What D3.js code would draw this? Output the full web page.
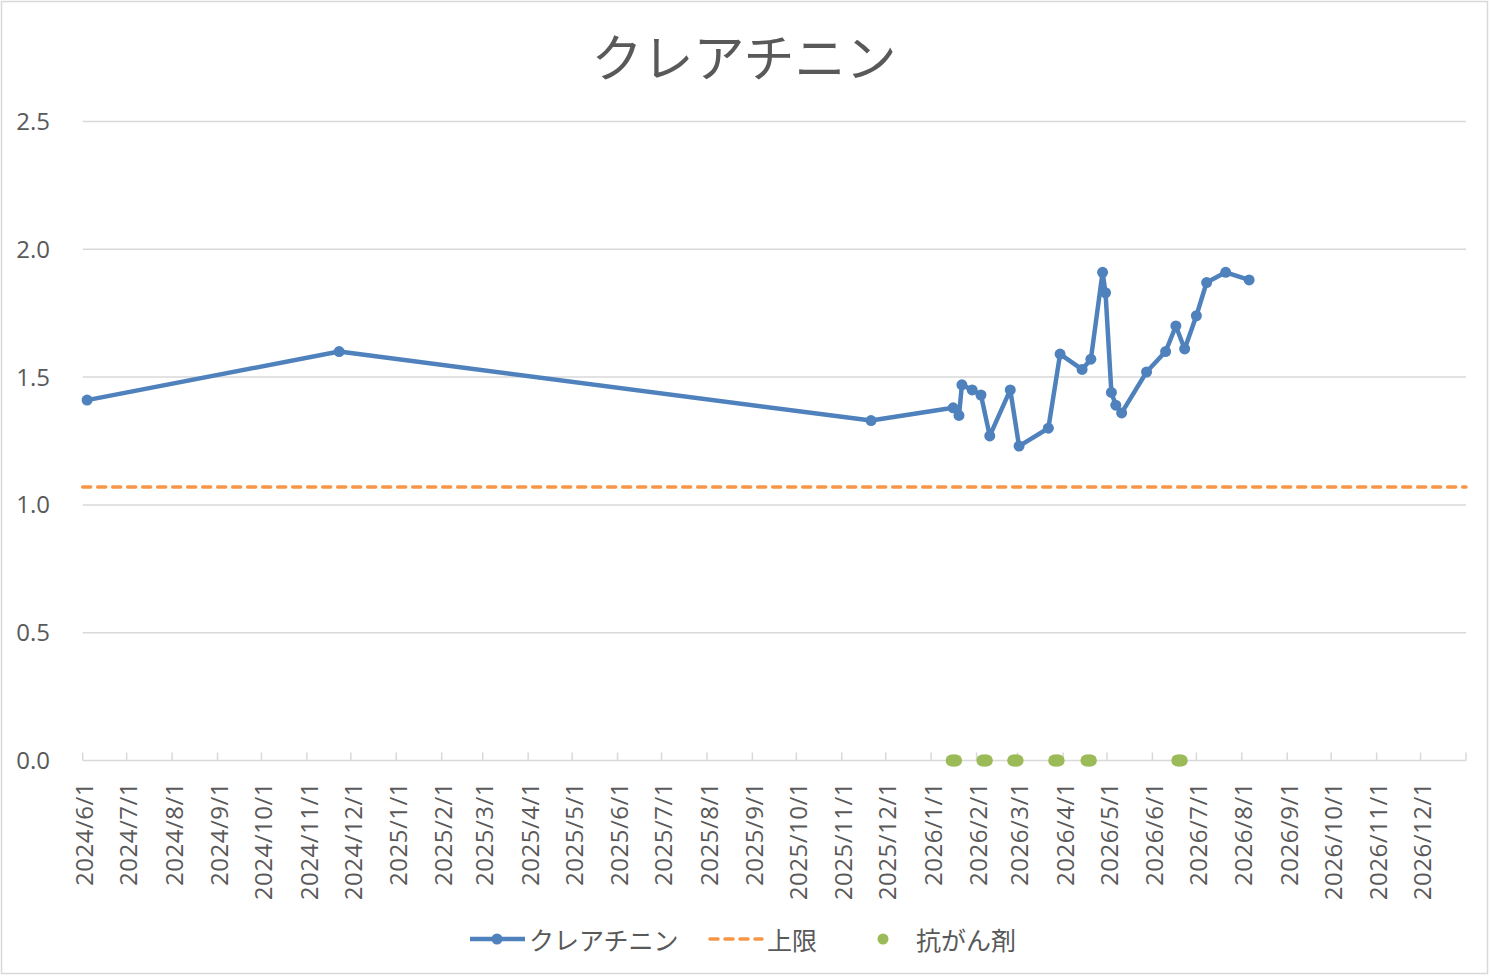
<!DOCTYPE html>
<html>
<head>
<meta charset="utf-8">
<script src="https://cdn.jsdelivr.net/npm/d3@7"></script>
<style>
  body { margin: 0; background: #fff; }
  text { fill: #595959; font-family: "Open Sans", "Noto Sans CJK JP", sans-serif; }
</style>
</head>
<body>
<div id="chart"></div>
<script>
// measurement dates and creatinine values (mg/dL)
var creDates = [
	"2024-06-04", "2024-11-23", "2025-11-21",
	"2026-01-16", "2026-01-20", "2026-01-22", "2026-01-29", "2026-02-04",
	"2026-02-10", "2026-02-24", "2026-03-02", "2026-03-22", "2026-03-30",
	"2026-04-14", "2026-04-20", "2026-04-28", "2026-04-30", "2026-05-04",
	"2026-05-07", "2026-05-11", "2026-05-28", "2026-06-10", "2026-06-17",
	"2026-06-23", "2026-07-01", "2026-07-08", "2026-07-21", "2026-08-06"
];
var creValues = [
	1.41, 1.60, 1.33,
	1.38, 1.35, 1.47, 1.45, 1.43,
	1.27, 1.45, 1.23, 1.30, 1.59,
	1.53, 1.57, 1.91, 1.83, 1.44,
	1.39, 1.36, 1.52, 1.60, 1.70,
	1.61, 1.74, 1.87, 1.91, 1.88
];
// upper limit of reference range
var upperLimit = 1.07;
// chemotherapy days (plotted at 0)
var chemoDates = [
	"2026-01-15", "2026-01-16", "2026-01-17", "2026-01-18",
	"2026-02-05", "2026-02-06", "2026-02-07", "2026-02-08",
	"2026-02-26", "2026-02-27", "2026-02-28", "2026-03-01",
	"2026-03-26", "2026-03-27", "2026-03-28", "2026-03-29",
	"2026-04-17", "2026-04-18", "2026-04-19", "2026-04-20",
	"2026-06-18", "2026-06-19", "2026-06-20", "2026-06-21"
];
var xDomain = ["2024-06-01", "2027-01-01"];
var yTicks = [0, 0.5, 1.0, 1.5, 2.0, 2.5];
var seriesNames = ["クレアチニン", "上限", "抗がん剤"];
var titleText = "クレアチニン";

var colors = { cre: "#4F81BD", limit: "#F79646", chemo: "#9BBB59", grid: "#d9d9d9" };

var width = 1490, height = 976;
var parse = d3.timeParse("%Y-%m-%d");

var svg = d3.select("#chart")
	.append("svg")
		.attr("width", width)
		.attr("height", height);

// chart area border
svg.append("rect")
	.attr("x", 1.5).attr("y", 1.5)
	.attr("width", width - 4).attr("height", height - 4)
	.attr("fill", "#fff")
	.attr("stroke", colors.grid)
	.attr("stroke-width", 1.5);

var x = d3.scaleTime()
	.domain(xDomain.map(parse))
	.range([82.7, 1466]);

var y = d3.scaleLinear()
	.domain([0, 2.5])
	.range([760.5, 121.5]);

// horizontal gridlines
svg.append("g")
	.selectAll("line")
	.data(yTicks.filter(function(d) { return d > 0; }))
	.enter().append("line")
		.attr("x1", x.range()[0]).attr("x2", x.range()[1])
		.attr("y1", function(d) { return y(d); })
		.attr("y2", function(d) { return y(d); })
		.attr("stroke", colors.grid)
		.attr("stroke-width", 1.5);

// y axis labels
svg.append("g")
	.selectAll("text")
	.data(yTicks)
	.enter().append("text")
		.attr("x", 50)
		.attr("y", function(d) { return y(d); })
		.attr("dy", "0.35em")
		.attr("text-anchor", "end")
		.style("font-size", "24px")
		.text(d3.format(".1f"));

// x axis: line, ticks pointing up, rotated labels
var xAxis = svg.append("g").attr("class", "x-axis");
var monthTicks = d3.timeMonth.range(x.domain()[0], d3.timeDay.offset(x.domain()[1], 1));

xAxis.append("line")
	.attr("x1", x.range()[0]).attr("x2", x.range()[1])
	.attr("y1", y(0)).attr("y2", y(0))
	.attr("stroke", colors.grid)
	.attr("stroke-width", 1.5);

xAxis.selectAll("line.tick")
	.data(monthTicks)
	.enter().append("line")
		.attr("class", "tick")
		.attr("x1", function(d) { return x(d); })
		.attr("x2", function(d) { return x(d); })
		.attr("y1", y(0) - 8).attr("y2", y(0))
		.attr("stroke", colors.grid)
		.attr("stroke-width", 1.5);

var fmt = d3.timeFormat("%Y/%-m/%-d");
xAxis.selectAll("text")
	.data(monthTicks.slice(0, -1))
	.enter().append("text")
		.attr("transform", function(d) { return "translate(" + (x(d) + 2) + ",782) rotate(-90)"; })
		.attr("dy", "0.36em")
		.attr("text-anchor", "end")
		.style("font-size", "24px")
		.style("letter-spacing", "0.5px")
		.text(fmt);

// upper limit dashed line
svg.append("line")
	.attr("x1", x.range()[0]).attr("x2", x.range()[1])
	.attr("y1", y(upperLimit)).attr("y2", y(upperLimit))
	.attr("stroke", colors.limit)
	.attr("stroke-width", 3.5)
	.attr("stroke-dasharray", "8,7")
	.attr("stroke-linecap", "round");

// chemo markers
svg.append("g")
	.selectAll("circle")
	.data(chemoDates)
	.enter().append("circle")
		.attr("cx", function(d) { return x(parse(d)); })
		.attr("cy", y(0))
		.attr("r", 6)
		.attr("fill", colors.chemo);

// creatinine line + markers
var creData = creDates.map(function(d, i) { return { date: parse(d), value: creValues[i] }; });

svg.append("path")
	.datum(creData)
	.attr("fill", "none")
	.attr("stroke", colors.cre)
	.attr("stroke-width", 4.5)
	.attr("stroke-linejoin", "round")
	.attr("d", d3.line()
		.x(function(d) { return x(d.date); })
		.y(function(d) { return y(d.value); }));

svg.append("g")
	.selectAll("circle")
	.data(creData)
	.enter().append("circle")
		.attr("cx", function(d) { return x(d.date); })
		.attr("cy", function(d) { return y(d.value); })
		.attr("r", 5.5)
		.attr("fill", colors.cre);

// title
svg.append("text")
	.attr("x", 744)
	.attr("y", 55)
	.attr("dominant-baseline", "central")
	.attr("text-anchor", "middle")
	.style("font-family", "'Noto Sans CJK JP', sans-serif")
	.style("font-size", "51px")
	.text(titleText);

// legend
var legend = svg.append("g").attr("class", "legend");
var ly = 939;

legend.append("line")
	.attr("x1", 470).attr("x2", 525).attr("y1", ly).attr("y2", ly)
	.attr("stroke", colors.cre).attr("stroke-width", 4.5);
legend.append("circle")
	.attr("cx", 497).attr("cy", ly).attr("r", 5.5).attr("fill", colors.cre);

legend.append("line")
	.attr("x1", 710).attr("x2", 762).attr("y1", ly).attr("y2", ly)
	.attr("stroke", colors.limit).attr("stroke-width", 3.5)
	.attr("stroke-dasharray", "8,7").attr("stroke-linecap", "round");

legend.append("circle")
	.attr("cx", 883).attr("cy", ly).attr("r", 5.5).attr("fill", colors.chemo);

legend.selectAll("text")
	.data(seriesNames)
	.enter().append("text")
		.attr("x", function(d, i) { return [529, 767, 916][i]; })
		.attr("y", ly)
		.attr("dominant-baseline", "central")
		.style("font-family", "'Noto Sans CJK JP', sans-serif")
		.style("font-size", "25px")
		.text(function(d) { return d; });
</script>
</body>
</html>
